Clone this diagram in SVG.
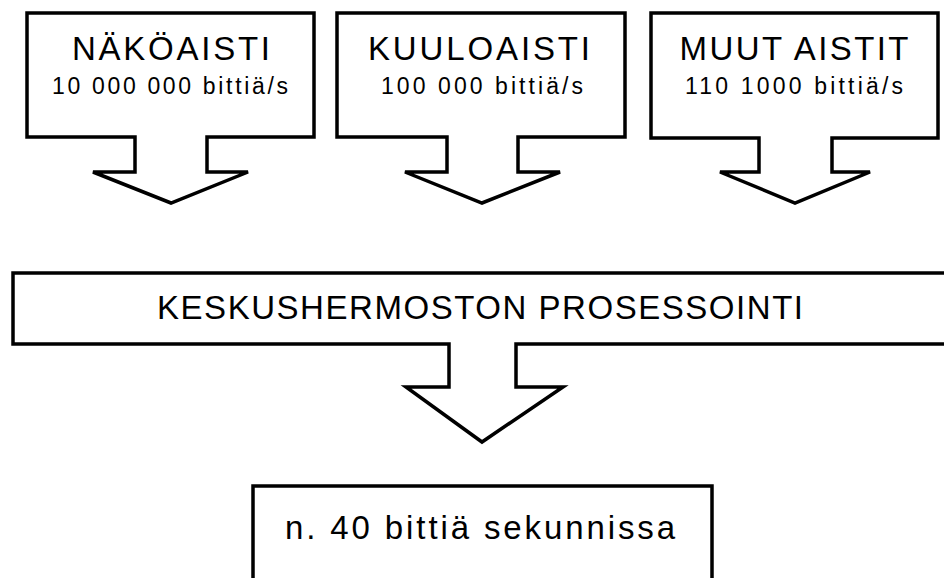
<svg xmlns="http://www.w3.org/2000/svg" width="944" height="578" viewBox="0 0 944 578">
<style>
.shape{fill:#fff;stroke:#000;stroke-width:3.5;stroke-linejoin:miter}
text{font-family:"Liberation Sans",Arial,sans-serif;fill:#000;text-anchor:middle}
.big{font-size:33px}
.small{font-size:23px}
</style>
<rect width="944" height="578" fill="#fff"/>
<g id="nakoaisti">
<polygon class="shape" points="27,13 314,13 314,137 207,137 207,172 248,172 171,203 93,172 135,172 135,137 27,137"/>
<text class="big" x="171" y="60" textLength="198" lengthAdjust="spacing">NÄKÖAISTI</text>
<text class="small" x="170" y="94" textLength="236" lengthAdjust="spacing">10 000 000 bittiä/s</text>
</g>
<g id="kuuloaisti">
<polygon class="shape" points="337,13 625,13 625,137 518,137 518,172 560,172 482,203 405,172 447,172 447,137 337,137"/>
<text class="big" x="479" y="60" textLength="222" lengthAdjust="spacing">KUULOAISTI</text>
<text class="small" x="482" y="94" textLength="202" lengthAdjust="spacing">100 000 bittiä/s</text>
</g>
<g id="muut-aistit">
<polygon class="shape" points="651,13 938,13 938,138 832,138 832,172 870,172 795,203 720,172 759,172 759,138 651,138"/>
<text class="big" x="794" y="60" textLength="229" lengthAdjust="spacing">MUUT AISTIT</text>
<text class="small" x="794" y="94" textLength="218" lengthAdjust="spacing">110 1000 bittiä/s</text>
</g>
<g id="keskushermosto">
<polygon class="shape" points="13,273 951,273 951,344 516,344 516,387 563,387 482,442 406,387 449,387 449,344 13,344"/>
<text class="big" x="480" y="319" textLength="646" lengthAdjust="spacing">KESKUSHERMOSTON PROSESSOINTI</text>
</g>
<g id="tulos">
<path class="shape" d="M253,600 V486 H712 V600"/>
<text class="big" x="480" y="539" textLength="390" lengthAdjust="spacing">n. 40 bittiä sekunnissa</text>
</g>
<g id="connectors"></g>
</svg>
